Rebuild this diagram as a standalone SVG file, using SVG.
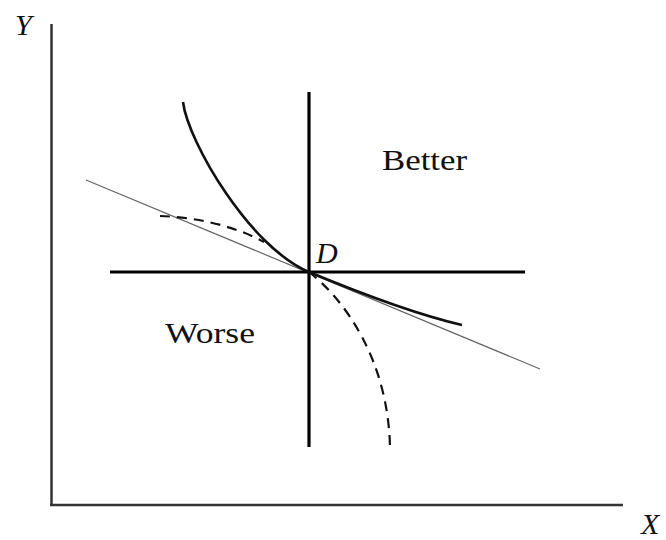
<svg xmlns="http://www.w3.org/2000/svg" width="666" height="540" viewBox="0 0 666 540">
<style>
.lbl{font-family:'Liberation Serif','DejaVu Serif','Times New Roman',serif;font-size:30px;fill:#111}
.it{font-style:italic}
.axis{stroke:#333;stroke-width:2.5;fill:none}
.cross{stroke:#000;stroke-width:3.2;fill:none}
.thin{stroke:#666;stroke-width:1.2;fill:none}
.curve{stroke:#111;stroke-width:2.6;fill:none}
.dash{stroke:#111;stroke-width:2.2;fill:none;stroke-dasharray:10,7}
</style>
<rect width="666" height="540" fill="#fff"/>
<g id="axes">
<line class="axis" x1="51.5" y1="24" x2="51.5" y2="506"/>
<line class="axis" x1="50" y1="505" x2="623" y2="505"/>
</g>
<g id="label-Y"><text class="lbl it" font-family="Liberation Serif, serif" x="15" y="35">Y</text></g>
<g id="label-X"><text class="lbl it" font-family="Liberation Serif, serif" x="641" y="534">X</text></g>
<g id="connectors">
<line class="thin" x1="86" y1="180" x2="540" y2="369"/>
<path class="dash" d="M160,216 C195,217 235,226 264,242"/>
<path class="dash" d="M309,272 C345,300 388,360 390,447"/>
<line class="cross" x1="309" y1="92" x2="309" y2="447"/>
<line class="cross" x1="110" y1="272" x2="525" y2="272"/>
<path class="curve" d="M183,102 C188,142 250,247.5 309,272 C349,288.6 410,313 462,325"/>
</g>
<g id="label-D"><text class="lbl it" font-family="Liberation Serif, serif" x="316" y="263">D</text></g>
<g id="label-better"><text class="lbl" font-family="Liberation Serif, serif" x="382" y="170" textLength="85" lengthAdjust="spacingAndGlyphs">Better</text></g>
<g id="label-worse"><text class="lbl" font-family="Liberation Serif, serif" x="165" y="343" textLength="90" lengthAdjust="spacingAndGlyphs">Worse</text></g>
</svg>
